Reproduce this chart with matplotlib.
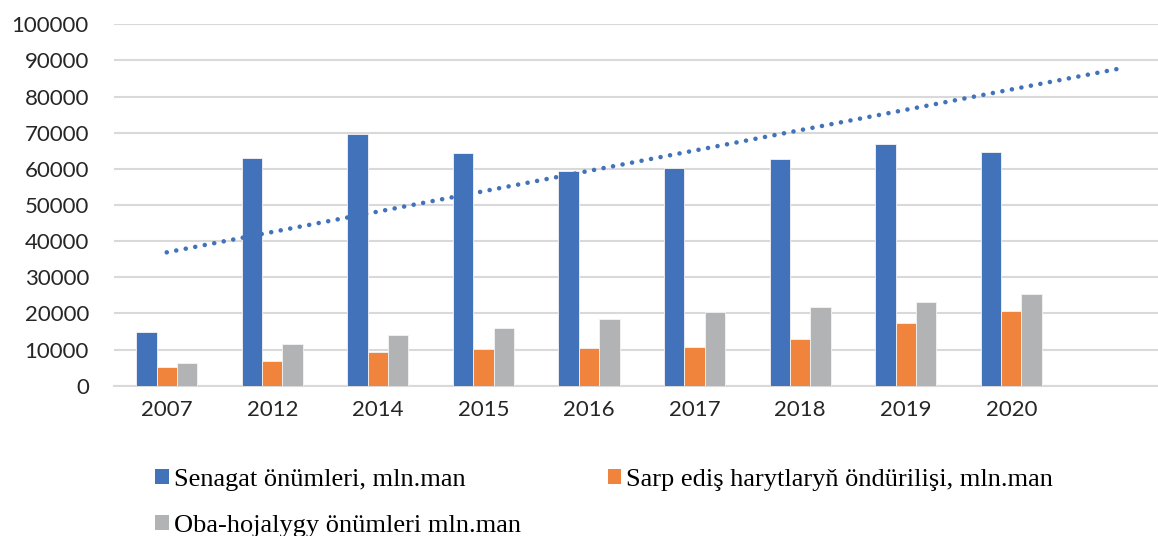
import numpy as np
import matplotlib
matplotlib.use('Agg')
import matplotlib.pyplot as plt
from matplotlib.patches import Patch

# data
years = ['2007', '2012', '2014', '2015', '2016', '2017', '2018', '2019', '2020']
senagat = [14800, 63000, 69600, 64400, 59400, 60200, 62800, 66900, 64700]
sarp = [5300, 6750, 9250, 10050, 10350, 10800, 13000, 17400, 20750]
oba = [6400, 11550, 14050, 16050, 18350, 20300, 21700, 23250, 25300]
# linear trend of Senagat (with one period forecast), end points
trend_x = [0, 9]
trend_y = [36900, 87600]

labels = ['Senagat önümleri, mln.man',
          'Sarp ediş harytlaryň öndürilişi, mln.man',
          'Oba-hojalygy önümleri mln.man']
colors = ['#4273BA', '#F0843C', '#B2B3B5']

fig = plt.figure(figsize=(11.58, 5.36), dpi=100)
ax = fig.add_axes([0.0984, 0.2804, 0.9016, 0.6743])

x = np.arange(len(years))
w = 0.193
for i, (vals, c) in enumerate(zip([senagat, sarp, oba], colors)):
    ax.bar(x + (i - 1) * w, vals, width=w, color=c, edgecolor='#f4f4f4',
           linewidth=0.6, zorder=3)

ax.plot(trend_x, trend_y, color='#4273BA', linewidth=3.3,
        linestyle=(0, (0.01, 2.1)), dash_capstyle='round', zorder=4)

ax.set_xlim(-0.5, 9.39)
ax.set_ylim(0, 100000)
ax.set_yticks(np.arange(0, 100001, 10000))
ax.set_xticks(x)
ax.set_xticklabels(years)
ax.grid(axis='y', color='#d9d9d9', linewidth=1.5, zorder=0)
for s in ['top', 'right', 'left']:
    ax.spines[s].set_visible(False)
ax.spines['bottom'].set_color('#d9d9d9')
ax.spines['bottom'].set_linewidth(1.5)
ax.tick_params(axis='y', length=0, pad=18, labelsize=16, labelcolor='#262626')
ax.tick_params(axis='x', length=0, pad=10, labelsize=16, labelcolor='#262626')
for t in ax.get_xticklabels() + ax.get_yticklabels():
    t.set_fontfamily('Lato')

handles = [Patch(facecolor=c) for c in colors]
order = [0, 2, 1]
fig.legend([handles[i] for i in order], [labels[i] for i in order],
           ncol=2, loc='upper left', bbox_to_anchor=(0.125, 0.145),
           frameon=False, prop={'family': 'Liberation Serif', 'size': 19},
           handlelength=0.5, handleheight=0.5, handletextpad=0.2,
           columnspacing=3.3, labelspacing=0.9, borderaxespad=0)

fig.savefig('out.png', dpi=100)
